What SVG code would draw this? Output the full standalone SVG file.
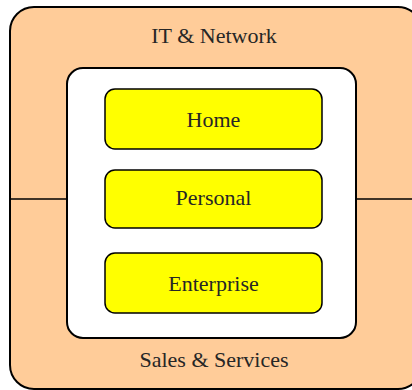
<svg xmlns="http://www.w3.org/2000/svg" width="412" height="390" viewBox="0 0 412 390">
  <style>
    .frame { fill: #ffcc99; stroke: #000; stroke-width: 2; }
    .panel { fill: #ffffff; stroke: #000; stroke-width: 2; }
    .item { fill: #ffff00; stroke: #000; stroke-width: 1.5; }
    .link { stroke: #000; stroke-width: 1.5; fill: none; }
    text { font-family: "Liberation Serif", "DejaVu Serif", serif; font-size: 22px; fill: #262626; text-anchor: middle; }
  </style>
  <g id="outer">
    <rect class="frame" x="10" y="7" width="412" height="382" rx="24" ry="24"/>
    <text x="214" y="43">IT &amp; Network</text>
    <text x="214" y="367">Sales &amp; Services</text>
  </g>
  <g id="connectors">
    <line class="link" x1="10" y1="199" x2="67" y2="199"/>
    <line class="link" x1="356" y1="199" x2="412" y2="199"/>
  </g>
  <g id="panel">
    <rect class="panel" x="67" y="68" width="289" height="270" rx="16" ry="16"/>
  </g>
  <g id="home">
    <rect class="item" x="105" y="89" width="217" height="60" rx="10" ry="10"/>
    <text x="213.5" y="127">Home</text>
  </g>
  <g id="personal">
    <rect class="item" x="105" y="170" width="217" height="58" rx="10" ry="10"/>
    <text x="213.5" y="205">Personal</text>
  </g>
  <g id="enterprise">
    <rect class="item" x="105" y="253" width="217" height="60" rx="10" ry="10"/>
    <text x="213.5" y="291">Enterprise</text>
  </g>
</svg>
